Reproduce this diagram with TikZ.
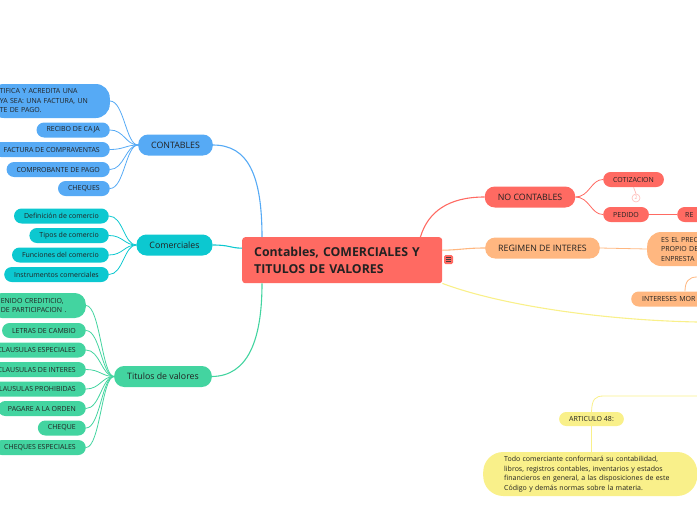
\documentclass[tikz,border=0pt]{standalone}
\usepackage{fontspec}
\setmainfont{Open Sans}
\usetikzlibrary{positioning}

\definecolor{mmred}{RGB}{255,106,98}
\definecolor{mmblue}{RGB}{86,170,245}
\definecolor{mmteal}{RGB}{12,200,208}
\definecolor{mmgreen}{RGB}{67,212,160}
\definecolor{mmorange}{RGB}{255,183,128}
\definecolor{mmyellow}{RGB}{249,240,138}
\definecolor{mmtext}{RGB}{34,34,34}

\tikzset{
  kid/.style={rounded corners=7.5pt, minimum height=15pt, inner xsep=10pt, inner ysep=0pt,
    text=mmtext, font=\fontsize{7}{9.5}\selectfont},
  branch/.style={rounded corners=10pt, minimum height=21pt, inner xsep=13pt, inner ysep=0pt,
    text=mmtext, font=\fontsize{8.8}{10}\selectfont},
  bluekid/.style={kid, fill=mmblue},
  tealkid/.style={kid, fill=mmteal},
  greenkid/.style={kid, fill=mmgreen},
  redkid/.style={kid, fill=mmred},
  orangekid/.style={kid, fill=mmorange},
  yellowkid/.style={kid, fill=mmyellow},
  link/.style={line width=1.1pt},
  thin link/.style={line width=0.8pt}
}

\begin{document}
\begin{tikzpicture}[x=1pt,y=-1pt]
    \useasboundingbox (0,0) rectangle (697,520);
    \clip (0,0) rectangle (697,520);

    % central topic
    \node[fill=mmred, rounded corners=3pt, anchor=north west, minimum height=46pt, text width=176pt,
      inner xsep=12pt, inner ysep=0pt, align=left, text=mmtext,
      font=\fontsize{12.3}{17}\selectfont\bfseries] (title) at (242,237)
      {Contables, COMERCIALES Y\\TITULOS DE VALORES};
    \node[fill=mmred, rounded corners=1.5pt, minimum size=9pt, inner sep=0pt] (menu) at (448.5,259.5) {};
    \foreach \dy in {-2,0,2}
      \draw[black!75, line width=0.6pt] ([xshift=-2.3pt, yshift=\dy pt]menu.center) -- ([xshift=2.3pt, yshift=\dy pt]menu.center);

    % left branches
    \node[branch, fill=mmblue] (contab) at (175.5,145) {CONTABLES};
    \node[branch, fill=mmteal] (comerc) at (174.5,245) {Comerciales};
    \node[branch, fill=mmgreen] (titval) at (163,376.5) {Titulos de valores};

    \node[bluekid, anchor=east, text width=100pt, align=left, minimum height=34pt, rounded corners=14pt]
      (justif) at (110,101) {TIFICA Y ACREDITA UNA\\YA SEA: UNA FACTURA, UN\\TE DE PAGO.};
    \node[bluekid, anchor=east] (recibo) at (110,130) {RECIBO DE CAJA};
    \node[bluekid, anchor=east] (factura) at (110,149.5) {FACTURA DE COMPRAVENTAS};
    \node[bluekid, anchor=east] (comprob) at (110,169.5) {COMPROBANTE DE PAGO};
    \node[bluekid, anchor=east] (cheques) at (110,188.5) {CHEQUES};

    \node[tealkid, anchor=east] (defin) at (109,216) {Definición de comercio};
    \node[tealkid, anchor=east] (tipos) at (109,235.5) {Tipos de comercio};
    \node[tealkid, anchor=east] (funci) at (109,255) {Funciones del comercio};
    \node[tealkid, anchor=east] (instr) at (109,274.5) {Instrumentos comerciales};

    \node[greenkid, anchor=east, text width=75pt, align=left, minimum height=25pt, rounded corners=11pt]
      (conten) at (86,305.5) {ENIDO CREDITICIO,\\DE PARTICIPACION .};
    \node[greenkid, anchor=east] (letras) at (86,330.5) {LETRAS DE CAMBIO};
    \node[greenkid, anchor=east] (clesp) at (86,350) {CLAUSULAS ESPECIALES};
    \node[greenkid, anchor=east] (clint) at (86,369.5) {CLAUSULAS DE INTERES};
    \node[greenkid, anchor=east] (clpro) at (86,389) {CLAUSULAS PROHIBIDAS};
    \node[greenkid, anchor=east] (pagare) at (86,408.5) {PAGARE A LA ORDEN};
    \node[greenkid, anchor=east] (cheque) at (86,428) {CHEQUE};
    \node[greenkid, anchor=east] (chesp) at (86,447.5) {CHEQUES ESPECIALES};

    % right branches
    \node[branch, fill=mmred] (nocont) at (530,197) {NO CONTABLES};
    \node[branch, fill=mmorange] (regimen) at (542.5,248) {REGIMEN DE INTERES};

    \node[redkid, anchor=west] (cotiz) at (603,179.5) {COTIZACION};
    \node[circle, draw=mmred!45, fill=white, line width=0.6pt, inner sep=0pt, minimum size=8pt,
      text=mmred!60, font=\fontsize{5}{5}\selectfont] (count) at (636,198) {2};
    \node[redkid, anchor=west] (pedido) at (603,214.5) {PEDIDO};
    \node[redkid, anchor=west, text width=40pt, align=left, inner xsep=8pt] (reN) at (677,214.5) {RE};

    \node[orangekid, anchor=west, text width=60pt, align=left, minimum height=34pt, rounded corners=14pt,
      inner xsep=14pt] (precio) at (647,249) {ES EL PREC\\PROPIO DE\\ENPRESTA};
    \node[orangekid, anchor=west, text width=70pt, align=left, inner xsep=11pt] (morat) at (631,299) {INTERESES MOR};

    \node[yellowkid, minimum height=14pt, rounded corners=7pt] (artic) at (591.5,419) {ARTICULO 48:};
    \node[yellowkid, anchor=west, text width=172pt, align=left, minimum height=44pt, rounded corners=20pt,
      inner xsep=21pt] (norma) at (483,474)
      {Todo comerciante conformará su contabilidad,\\libros, registros contables, inventarios y estados\\financieros en general, a las disposiciones de este\\Código y demás normas sobre la materia.};

    \coordinate (yelEnd) at (697,322);
    \coordinate (yelIn) at (697,396);
    \coordinate (precUp) at (697,277);

    % connectors from the central topic
    \draw[link, mmblue] (contab.east) .. controls (248,145) and (262,175) .. ([xshift=20pt]title.north west);
    \draw[link, mmteal] (comerc.east) .. controls (230,245) and (230,248) .. ([yshift=12pt]title.west);
    \draw[link, mmgreen] (titval.east) .. controls (248,376) and (262,340) .. ([xshift=20pt]title.south west);
    \draw[link, mmred] ([xshift=-22pt]title.north east) .. controls (428,212) and (448,197) .. (nocont.west);
    \draw[link, mmorange] ([yshift=10pt]title.east) .. controls (460,250) and (465,248) .. (regimen.west);
    \draw[link, mmyellow] (title.south east) .. controls (500,305) and (600,320) .. (yelEnd);

    % connectors to the children
    \foreach \k in {justif,recibo,factura,comprob,cheques}
      \draw[thin link, mmblue] (\k.east) .. controls +(14,0) and +(-12,0) .. (contab.west);
    \foreach \k in {defin,tipos,funci,instr}
      \draw[thin link, mmteal] (\k.east) .. controls +(14,0) and +(-12,0) .. (comerc.west);
    \foreach \k in {conten,letras,clesp,clint,clpro,pagare,cheque,chesp}
      \draw[thin link, mmgreen] (\k.east) .. controls +(14,0) and +(-12,0) .. (titval.west);
    \foreach \k in {cotiz,pedido}
      \draw[thin link, mmred] (nocont.east) .. controls +(14,0) and +(-12,0) .. (\k.west);
    \draw[thin link, mmred!45] (cotiz.south) -- (count.north);
    \draw[thin link, mmred] (pedido.east) -- (reN.west);
    \draw[thin link, mmorange] (regimen.east) -- (precio.west);
    \draw[thin link, mmorange] ([xshift=54pt]morat.north west) .. controls +(0,-10) and +(-8,0) .. (precUp);
    \draw[thin link, mmyellow] (yelIn) -- (604,396) .. controls (595,396) and (592,399) .. (artic.north);
    \draw[thin link, mmyellow] (artic.south) -- (norma.north -| artic.south);
  \end{tikzpicture}
\end{document}
